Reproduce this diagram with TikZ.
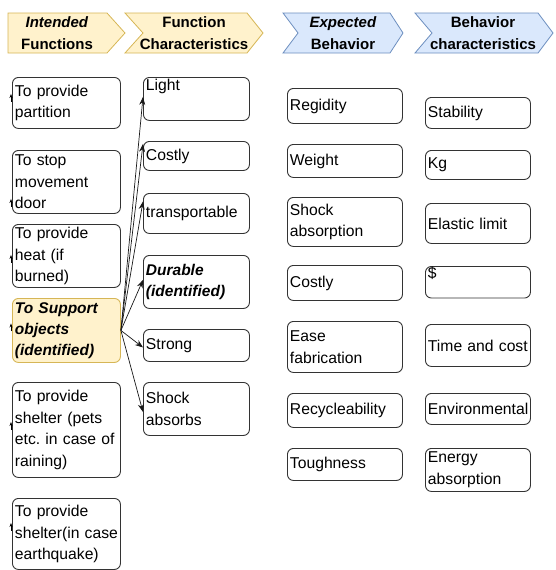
\documentclass[tikz,border=0pt]{standalone}
\usepackage{fontspec}
\setmainfont{Liberation Sans}
\usetikzlibrary{arrows.meta}
\definecolor{hdrYfill}{HTML}{FFF2CC}
\definecolor{hdrYline}{HTML}{D6B656}
\definecolor{hdrBfill}{HTML}{DAE8FC}
\definecolor{hdrBline}{HTML}{6C8EBF}
\frenchspacing
\begin{document}
\begin{tikzpicture}[x=1pt,y=-1pt,
	box/.style={draw=black!80,line width=0.9pt,rounded corners=6pt,anchor=north west,
		inner xsep=2.5pt,inner ysep=0pt,align=left,font=\fontsize{15.7}{21.5}\selectfont},
	colA/.style={box,text width=103pt},
	colB/.style={box,text width=101pt},
	colC/.style={box,text width=110pt},
	colD/.style={box,text width=100pt},
	hdrY/.style={draw=hdrYline,fill=hdrYfill,line width=0.8pt},
	hdrB/.style={draw=hdrBline,fill=hdrBfill,line width=0.8pt},
	hdr/.style={align=center,inner sep=0pt,font=\bfseries\fontsize{15}{22}\selectfont},
	link/.style={draw=black!90,line width=0.7pt,-{Stealth[length=8pt,width=6pt]}},
	stub/.style={draw=black,line width=0.7pt,-{Stealth[length=4pt,width=3pt]}}]
	\useasboundingbox (0,0) rectangle (555,570);
	\draw[hdrY] (8,13) -- (107,13) -- (125,33) -- (107,53) -- (8,53) -- cycle;
	\draw[hdrY] (125,13) -- (247,13) -- (263,33) -- (247,53) -- (125,53) -- (143,33) -- cycle;
	\draw[hdrB] (283,13) -- (390,13) -- (403,33) -- (390,53) -- (283,53) -- (298,33) -- cycle;
	\draw[hdrB] (415,13) -- (538,13) -- (553,33) -- (538,53) -- (415,53) -- (432,33) -- cycle;
	\node[hdr] (h1) at (57,33) {\textit{Intended}\\Functions};
	\node[hdr] (h2) at (194,33) {Function\\Characteristics};
	\node[hdr] (h3) at (343,33) {\textit{Expected}\\Behavior};
	\node[hdr] (h4) at (483,33) {Behavior\\characteristics};
	\node[colA,minimum height=51pt] (f1) at (12,77) {To provide\\partition};
	\node[colA,minimum height=63pt] (f2) at (12,150) {To stop\\movement\\door};
	\node[colA,minimum height=63pt] (f3) at (12,224) {To provide\\heat (if\\burned)};
	\node[colA,draw=hdrYline,fill=hdrYfill,font=\bfseries\itshape\fontsize{15.5}{21}\selectfont,
		minimum height=64pt] (f4) at (12,298) {To Support\\objects\\(identified)};
	\node[colA,minimum height=95pt] (f5) at (12,382) {To provide\\shelter (pets\\etc. in case of\\raining)};
	\node[colA,minimum height=71pt] (f6) at (12,498) {To provide\\shelter(in case\\earthquake)};
	\node[colB,minimum height=43pt] (c1) at (143,77) {Light\\\strut};
	\node[colB,minimum height=29pt] (c2) at (143,141) {Costly};
	\node[colB,minimum height=40pt] (c3) at (143,193) {transportable};
	\node[colB,font=\bfseries\itshape\fontsize{15.5}{21.5}\selectfont,
		minimum height=53pt] (c4) at (143,255) {Durable\\(identified)};
	\node[colB,minimum height=32pt] (c5) at (143,329) {Strong};
	\node[colB,minimum height=53pt] (c6) at (143,382) {Shock\\absorbs};
	\node[colC,minimum height=35pt] (e1) at (287,88) {Regidity};
	\node[colC,minimum height=33pt] (e2) at (287,144) {Weight};
	\node[colC,minimum height=49pt] (e3) at (287,197) {Shock\\absorption};
	\node[colC,minimum height=35pt] (e4) at (287,265) {Costly};
	\node[colC,minimum height=51pt] (e5) at (287,321) {Ease\\fabrication};
	\node[colC,minimum height=34pt] (e6) at (287,393) {Recycleability};
	\node[colC,minimum height=32pt] (e7) at (287,448) {Toughness};
	\node[colD,minimum height=31pt] (b1) at (425,97) {Stability};
	\node[colD,minimum height=29pt] (b2) at (425,150) {Kg};
	\node[colD,minimum height=40pt] (b3) at (425,203) {Elastic limit};
	\node[colD,minimum height=26pt] (b4) at (425,266) {\$\\[-8pt]\strut};
	\node[colD,minimum height=42pt] (b5) at (425,324) {Time and cost};
	\node[colD,minimum height=31pt] (b6) at (425,393) {Environmental};
	\node[colD,minimum height=43pt] (b7) at (425,448) {Energy\\absorption};
	\draw[link] (f4.east) -- ([yshift=2pt]c1.west);
	\draw[link] (f4.east) -- ([yshift=12pt]c2.west);
	\draw[link] (f4.east) -- ([yshift=12pt]c3.west);
	\draw[link] (f4.east) -- ([yshift=2pt]c4.west);
	\draw[link] (f4.east) -- ([yshift=-2pt]c5.west);
	\draw[link] (f4.east) -- ([yshift=-3pt]c6.west);
	\foreach \n/\d in {f1/-5,f2/21,f3/3,f4/-3,f5/-4,f6/-7}
		\draw[stub] ([shift={(-1,\d+4)}]\n.west) -- ++(0,-8);
\end{tikzpicture}
\end{document}
